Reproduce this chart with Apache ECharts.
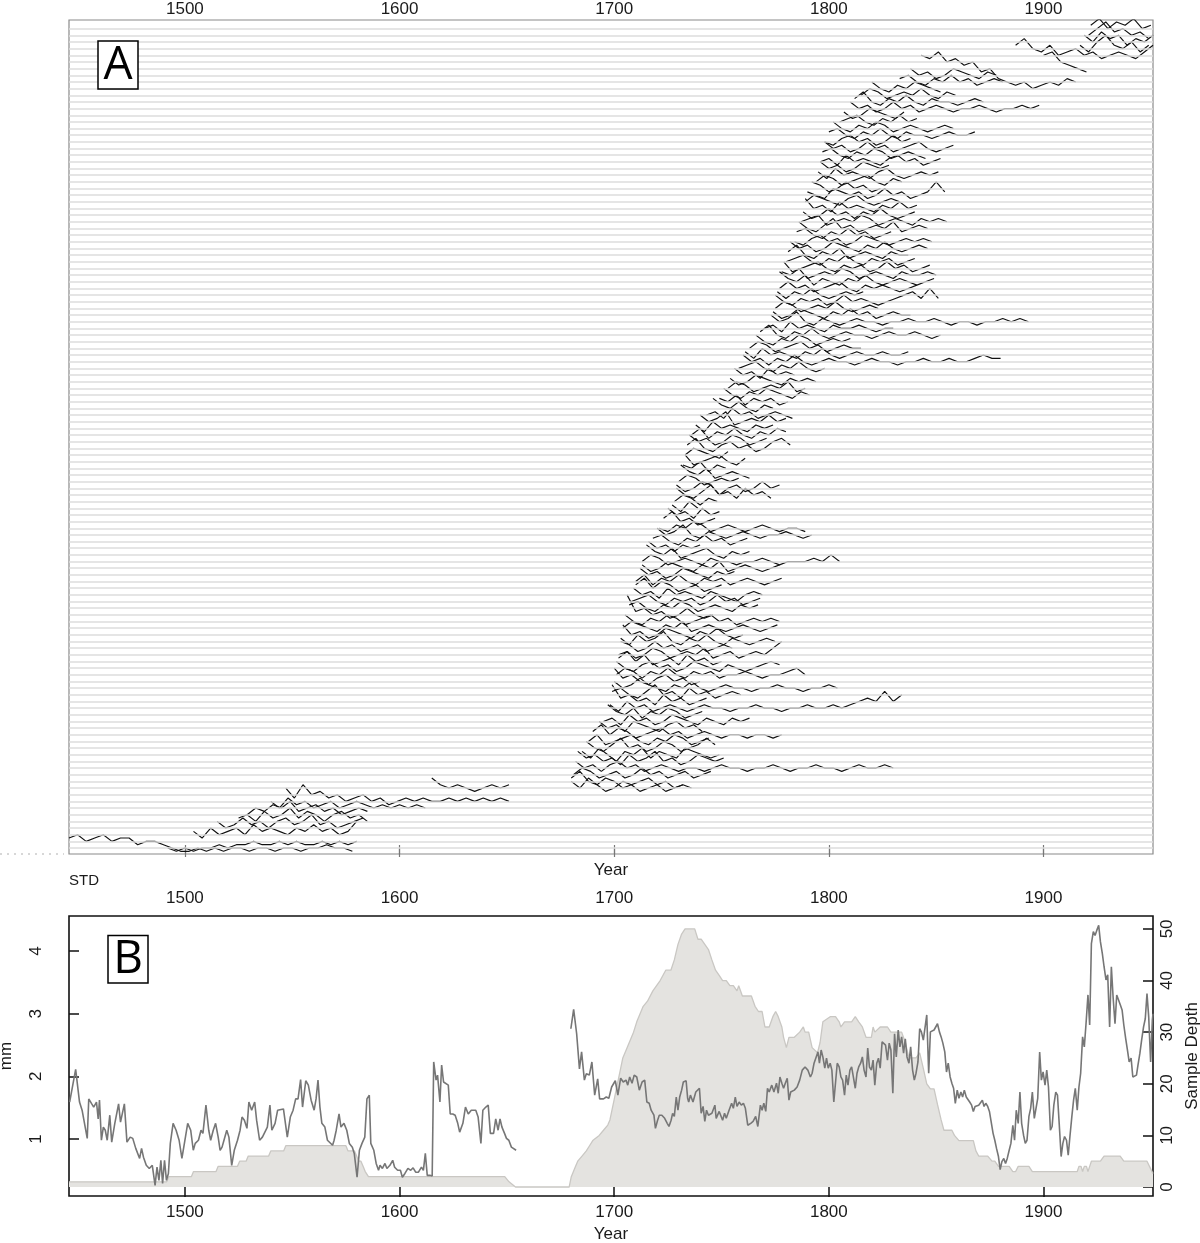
<!DOCTYPE html>
<html>
<head>
<meta charset="utf-8">
<script src="https://cdn.jsdelivr.net/npm/echarts@6/dist/echarts.min.js"></script>
<style>
html, body { margin: 0; padding: 0; background: #fff; }
#main { width: 1200px; height: 1243px; }
</style>
</head>
<body>
<div id="main"></div>
<script>
// tick labels
const yearTicks = [1500, 1600, 1700, 1800, 1900];
const mmTicks = [1, 2, 3, 4];
const depthTicks = [0, 10, 20, 30, 40, 50];

// panel A: one series per row, first year, then values read every 4 years
const spagStep = 4;
const spagStart = [1446,1492,1504,1515,1525,1529,1540,1547,1615,
  1680,1680,1681,1682,1683,1685,1687,1688,1690,1693,1695,1697,1698,1699,1699,1700,1700,1701,1701,1702,1702,
  1703,1703,1704,1704,1705,1706,1707,1708,1709,1710,1710,1712,1713,1713,1715,1716,1718,1720,1721,1723,
  1725,1727,1728,1729,1729,1730,1731,1732,1733,1733,1734,1735,1736,1738,1740,1743,1746,1749,1751,1753,
  1754,1756,1758,1760,1761,1763,1766,1768,1770,1773,1774,1775,1775,1776,1777,1777,1778,1779,1780,1781,
  1782,1784,1785,1786,1787,1788,1789,1789,1790,1792,1794,1795,1796,1796,1797,1798,1798,1800,1802,1805,
  1807,1810,1812,1815,1820,1833,1838,1843,1900,1887,1917,1919,1921,1922];
const spagVals = [
  [3,4,2,3,4,2,3,3,1,2,2,1,0,-1,-1,0,-1,0,-1,0,0,-1,0,0,-1,0,0,-1,0,0,1,0,0,-1],
  [-2,-3,-2,-3,-2,-2,-1,-2,-1,-1,0,-1,-1,0,-1,0,-1,-1,0,-1,0,-1,0],
  [1,-1,2,0,1,2,0,3,1,2,1,0,2,1,3,1,2,0,1,4],
  [2,0,1,3,1,2,0,2,3,1,2,4,1,2,0,1,2,3],
  [1,2,0,3,1,2,4,1,3,2,0,2,3,1,2,0],
  [0,2,1,3,2,4,1,2,3,1,2,0,1,2,1],
  [2,0,3,1,2,0,1,2,0,1,2,1,0,1,0,1,0,1,0],
  [4,1,5,2,3,1,2,0,1,2,0,1,-1,0,1,0,1,0,0,1,0,1,0,1,0,1,0],
  [5,3,2,3,2,1,2,3,2,3],
  [2,0,3,1,-1,0,2,1,-1,0,1,-1,0,1,0],
  [1,3,0,-1,1,0,-2,-1,0,1,-1,0,-2,-1],
  [0,2,1,-1,0,1,-1,0,2,0,1,-1,0,1,-1,0,1],
  [2,0,1,-1,1,2,0,1,-1,0,1,0,-1,0,0,-1,0,1,0,0,-1,0,0,1,0,-1,0,0,1,0,0,-1,0,1,0,0,1,0],
  [3,1,2,0,1,-1,2,0,1,3,0,1,-1,0,2,1,0,1],
  [1,-1,2,0,-2,1,0,2,-1,1,0,-1,2,1,0,-1,0],
  [2,0,-1,1,3,0,1,-1,0,2,1,-1,0,1,3,1],
  [0,2,-1,0,1,2,0,-1,1,0,2,1,-1,0,1],
  [1,3,0,2,1,-1,0,1,2,0,1,-1,0,1,0,-1,0,0,-1,0,0,-1,0],
  [2,0,1,-1,2,1,0,-1,1,2,0,1,-1],
  [0,1,-1,2,0,1,-1,0,2,1,0,-1,1,0,-1,1,0,1],
  [3,1,0,2,-1,1,0,2,1,-1,0,1],
  [1,-1,2,0,1,-1,0,1,0,-1,0,1,0,0,-1,0,0,1,0,0,-1,0,0,1,0,0,1,0,1,2,3,2,5,2,4],
  [5,1,2,0,1,-1,2,0,1,-1,0,1],
  [1,2,0,-1,1,3,0,1,-1,2,0,1,-1,0,1,0],
  [2,0,1,3,1,0,-1,1,0,2,0,-1,0,1,0,0,-1,0,0,1,0,0,-1,0,0,1,0],
  [4,1,2,0,-1,1,2,0,1,-1,0],
  [0,2,1,-1,1,0,2,0,-1,1,0,1,-1,0,0,1,0,-1,0,0,1,2,0],
  [2,0,-1,1,2,0,1,-1,0,2,1,0,-1,1,0,-1,0,1,2,1],
  [1,3,0,2,-1,0,1,-1,2,0,1,-1,0],
  [0,1,-1,0,2,1,-1,0,1,0,2,-1,0,1,-1,0,1,0,2,4],
  [2,1,-1,0,2,0,1,-1,0,1,-1,0,1,0],
  [1,-1,2,0,1,3,0,-1,1,0,2,0,-1,1,0,-1,0,1,0],
  [3,0,1,-1,0,2,1,0,-1,1,0,2,0,-1,0],
  [0,2,1,0,-1,1,0,2,-1,0,1,0,-1,0,1,0,-1,0,1],
  [2,0,-1,1,0,2,1,-1,0,1,2,0,1,-1,0,1,0,1,0],
  [6,1,2,0,1,-1,0,2,0,-1,0],
  [1,2,0,-1,1,0,2,1,-1,0,1,0,-1,1,0,1],
  [0,1,2,0,-1,1,0,1,-1,0,2,0,1,-1,0,1],
  [2,0,1,-1,2,0,1,0,-1,1,0,-1,-2,0,1,0],
  [1,3,0,2,1,-1,0,1,-1,0,1],
  [0,2,-1,1,0,2,0,-1,1,0,1,-1,0,1,0,-1,0,1],
  [2,0,1,-1,0,2,1,0,-1,1,0,1],
  [1,-1,0,2,1,0,-1,1,0,2,-1,0,1,0,-1,0,1],
  [0,2,1,-1,0,1,0,-1,1,0,0,-1,0,0,1,0,-1,0,0,0,1,0,2,0],
  [3,1,0,2,-1,0,1,2,0,-1,1,0,1],
  [2,0,1,-1,1,0,1],
  [1,2,0,-1,1,0,2,0,1,-1,0,1],
  [2,0,1,3,0,-1,1,0,-1,0,1,0,-1,0,0,1,0,-1,0],
  [0,-1,1,0,2,1,-1,0,1,0,-1,0,1,0,-1,0,0,-1],
  [1,3,0,1,-1,0,1],
  [2,0,1,-1,2,0,1],
  [1,-1,2,0],
  [0,2,1,-1,1,0],
  [2,0,-1,1,3,0,1,-1,2,0,1,-1],
  [1,-1,0,2,1,-2,0,1,-1,0,2,0,1],
  [0,2,1,-1,0,1,0,1],
  [3,1,0,2,-1,0,1,0,-1],
  [1,0,2,-1,1,0],
  [2,-1,0,1,2,0,-1,1],
  [0,2,1,0,-1,1],
  [1,3,0,-1,1,2,0,1,-1,0,2,3,1],
  [2,0,1,-1,0,2,1,-1,0,1],
  [0,2,-1,1,0,2,0,-1,1,0,2,1],
  [1,-1,2,0,1,0,-1,1,0,1],
  [2,0,1,3,-1,0,1,0,2,0,1],
  [0,1,-1,2,0,1,-1,0,1,0,-1],
  [3,1,0,2,0,-1,1,0],
  [1,0,2,-1,1,0,1,-1,0],
  [2,0,-1,1,0,2,1,0,-1,1,0],
  [0,2,1,-1,0,1,0,2,-1,0],
  [1,-1,0,2,1,0,-1,1,0,1,0],
  [2,0,1,-1,2,0,1,0],
  [0,1,2,0,-1,1,0,2,0,-1,0],
  [2,0,1,-1,1,0,2,0,-1,0,1,0,0,-1,0,1,0,0,-1,0,0,1,0,0,1,0,0,1,2,1,1],
  [1,-1,2,0,1,0,-1,1,0,2,0,-1,0,1,0,0,1,0,0,1],
  [0,2,1,-1,0,1,2,0,1,-1,0,1,0,0],
  [2,0,-1,1,0,2,1,-1,0,1,0,1],
  [1,3,0,-1,1,0,2,0,-1,0,1,0,0,-1,0,1,0,0,1,0,-1,0],
  [0,1,-1,2,0,1,0,-1,1,0,0,1,0,-1,0,0],
  [2,0,1,3,0,-1,1,0,-1,0,1,0,0,-1,0,0,1,0,0,1,0,-1,0,0,-1,0,0,1,0,1,0],
  [1,-1,0,2,1,0,-1,1,0,2,0,1,-1,0,1,0,0],
  [0,2,1,-1,0,1,0,2,0,-1,0,1,0],
  [2,0,-1,1,0,1,-1,0,2,0,1,0,-1,0,1,2,3,1,4,1],
  [1,-1,1,0,2,0,-1,0,1,0,1],
  [0,2,0,1,-1,0,1,2,0,-1,1,0,1,0,-1,0,1],
  [3,1,0,2,-1,1,0,-1,1,0,2,0,-1,0,1,0,-1,0,1],
  [1,0,2,-1,0,1,0,2,1,-1,0,1,0,-1,1,0,0,1,0],
  [2,-1,0,1,2,0,-1,1,0,1,-1,0,2,0,1,-1,0,1],
  [0,1,2,0,-1,1,0,2,0,-1,1,0,1,-1,0,1],
  [1,3,0,-1,1,0,2,-1,0,1,0,-1,1,0,0],
  [2,0,1,-1,0,2,1,0,-1,1,0,2,0,-1,0,1,0],
  [0,-1,1,2,0,1,-1,0,2,1,0,-1,0,1,0,1,0],
  [1,2,0,-1,1,0,2,0,1,-1,0,1],
  [2,0,-1,1,3,0,1,-1,0,1,0,2,-1,0,1,0],
  [0,1,2,-1,0,1,0,2,1,-1,0,1,0,-1,1,0,1,0],
  [1,-1,0,2,0,1,-1,1,0,2,0,-1,0,1],
  [3,0,1,-1,2,0,1,0,-1,1,0,2,0,1],
  [0,2,1,0,-1,1,2,0,-1,0,1,0],
  [1,0,-1,2,1,0,1,-1,0,2,0,1,-1,0,1,4,1],
  [2,1,-1,0,2,0,1,-1,0],
  [0,2,1,-1,0,1,2,0,-1,1,0],
  [1,-1,2,0,1,0,-1,1,2,0,-1,0,1,0,1],
  [2,0,1,-1,0,2,1,0,1],
  [0,1,-1,2,0,1,0,-1,1,2,0,1,-1,0,1],
  [1,2,0,-1,1,0,2,1,-1,0,1,0,-1],
  [2,0,1,-1,0,2,0,1,-1,0,1,2,0,-1,0,1],
  [0,-1,1,2,0,1,-1,0,2,0,1],
  [1,2,0,-1,1,0,2,0,-1,1,0,0,-1,0,1,0,0,1],
  [2,0,-1,1,0,2,1,-1,0,1,0,-1,0,1,0],
  [0,1,2,0,-1,1,0,2,0,1],
  [1,-1,0,2,1,0,-1,1],
  [2,0,1,-1,0,2,0,1,-1,0,1,0,-1,0,0,1,0,-1,0,0,1,0,1],
  [1,3,0,-1,1,0,2,0,-1,1,0,0,-1,0,1,0],
  [0,2,1,-1,0,1,0,2,0,-1,1,0],
  [2,0,-1,1,0,2,1,0,-1],
  [1,2,0,-1,1,0,2,0,1,-1,0,1,0],
  [2,0,1,-1,0,2,1,0,-1,1,0],
  [4,3,5,2,3,1,2,-1,0,-3,-4,-5,-4,-6,-5,-4,-5,-3,-4],
  [2,3,0,-1,-2,-3],
  [3,5,2,1,3,0,1,2,0,1,-1,0,1,0,-1,1,3],
  [1,-1,2,4,1,0,2,-1,1],
  [2,0,3,1,2,-1,1,0,2],
  [0,2,4,1,2,0,1,-1],
  [1,3,0,2,1,3,0,1]
];

// panel B: STD chronology (mm), null marks the gap
const stdYears = [1446.3,1449.1,1450.9,1452.1,1454.5,1455.2,1456.6,1457.5,1458.8,1459.6,1460.2,1461.1,1462.0,1462.9,1463.8,1465.0,1465.9,1467.3,1469.1,1470.0,
  1470.9,1471.8,1473.0,1474.5,1475.7,1477.1,1478.0,1478.9,1479.8,1480.7,1482.0,1483.4,1484.8,1486.1,1487.0,1487.9,1488.8,1489.6,1490.5,1491.4,
  1492.3,1493.2,1494.5,1495.9,1497.3,1498.6,1499.5,1501.3,1502.7,1503.9,1504.8,1506.3,1507.5,1508.4,1509.8,1511.1,1512.0,1513.2,1514.3,1515.5,
  1516.4,1517.3,1518.2,1519.5,1520.5,1521.8,1523.0,1524.5,1525.7,1526.6,1527.7,1528.9,1529.8,1531.1,1532.5,1533.4,1534.8,1536.1,1537.0,1538.4,
  1539.6,1540.5,1542.0,1543.2,1544.1,1545.9,1546.8,1547.7,1549.1,1550.4,1551.6,1552.7,1553.9,1554.8,1556.3,1557.5,1558.8,1560.2,1561.1,1562.0,
  1562.9,1563.8,1565.2,1566.4,1567.3,1568.8,1569.5,1570.5,1571.8,1572.7,1574.1,1575.4,1576.6,1578.0,1578.9,1580.2,1581.3,1582.5,1583.8,1584.8,
  1585.9,1586.6,1587.3,1588.0,1589.1,1590.2,1590.9,1592.0,1593.2,1594.1,1595.5,1596.8,1597.7,1599.1,1600.4,1601.3,1602.5,1603.9,1605.2,1606.3,
  1607.5,1608.8,1610.2,1611.1,1612.0,1612.9,1614.1,1615.2,1615.9,1617.0,1617.7,1618.8,1619.6,1620.5,1621.4,1622.7,1623.6,1624.8,1625.9,1627.1,
  1628.0,1629.5,1630.7,1632.0,1633.4,1634.3,1635.5,1636.6,1637.9,1638.8,1640.2,1641.3,1642.3,1643.8,1644.8,1645.9,1646.8,1647.7,1648.9,1649.8,
  1650.9,1652.1,1653.0,1654.3,1667,
  1679.8,1681.1,1682.5,1683.8,1684.8,1686.1,1687.0,1688.4,1689.6,1690.9,1692.3,1693.2,1695.0,1696.3,1697.5,1698.8,1700.5,1701.7,1703.0,1704.2,
  1705.5,1706.3,1707.2,1708.3,1709.3,1710.5,1711.7,1713.0,1714.2,1715.2,1716.3,1717.2,1718.5,1719.2,1720.2,1721.0,1722.2,1723.5,1724.7,1725.5,
  1726.5,1727.2,1728.0,1728.9,1729.7,1730.5,1731.4,1732.2,1733.5,1734.2,1734.7,1735.5,1736.7,1738.0,1738.9,1739.7,1740.5,1741.4,1742.2,1743.0,
  1743.9,1744.7,1745.5,1746.9,1747.5,1748.9,1749.7,1750.5,1751.4,1752.2,1753.5,1754.7,1755.5,1756.4,1757.2,1758.2,1759.2,1760.2,1761.1,1762.2,
  1763.6,1764.7,1765.9,1766.9,1768.1,1768.9,1769.7,1770.6,1771.4,1772.2,1773.4,1774.4,1775.6,1776.4,1777.2,1778.1,1778.9,1779.7,1780.6,1781.4,
  1782.2,1783.9,1785.2,1786.4,1787.6,1788.9,1790.2,1791.4,1792.2,1793.1,1793.9,1794.9,1795.6,1796.4,1797.2,1798.1,1798.9,1799.7,1800.6,1801.4,
  1802.3,1803.1,1803.9,1804.8,1805.6,1806.4,1807.3,1808.1,1808.9,1809.8,1810.6,1811.4,1812.3,1813.1,1813.9,1814.8,1815.6,1816.4,1817.3,1818.1,
  1818.9,1819.8,1820.6,1821.4,1822.3,1823.1,1823.9,1824.8,1825.6,1826.4,1827.3,1828.1,1828.9,1829.8,1830.6,1831.4,1832.3,1833.1,1833.9,1834.8,
  1835.6,1836.4,1837.3,1838.1,1839.0,1839.8,1840.6,1841.5,1842.3,1843.1,1844.0,1844.8,1845.6,1846.5,1847.3,1848.1,1849.0,1849.8,1850.6,1851.5,
  1852.3,1853.1,1854.0,1854.8,1855.6,1856.5,1857.3,1858.1,1858.9,1859.8,1860.6,1861.5,1862.3,1863.1,1864.0,1864.8,1865.6,1866.5,1867.3,1868.1,
  1869.0,1869.8,1870.6,1871.5,1872.3,1873.1,1874.0,1874.8,1875.6,1876.5,1877.3,1878.1,1879.0,1879.8,1880.6,1881.5,1882.3,1883.1,1884.0,1884.8,
  1885.7,1886.5,1887.3,1888.2,1889.0,1889.8,1890.7,1891.5,1892.3,1893.2,1894.0,1894.8,1895.7,1896.5,1897.3,1898.2,1899.0,1899.8,1900.7,1901.5,
  1902.3,1903.2,1904.0,1904.8,1905.7,1906.5,1907.3,1908.2,1909.0,1909.8,1910.7,1911.5,1912.3,1913.2,1914.0,1914.8,1915.7,1916.5,1917.3,1918.2,
  1919.0,1919.8,1920.7,1921.5,1922.3,1923.2,1924.0,1924.8,1925.7,1926.5,1927.4,1928.2,1929.1,1929.9,1930.8,1931.6,1932.4,1933.3,1934.1,1934.9,
  1935.8,1936.6,1937.4,1938.3,1939.1,1939.9,1940.8,1941.6,1942.4,1943.3,1944.0,1944.9,1945.7,1946.6,1947.4,1948.2,1949.0,1949.9,1950.7,1951.0];
const stdValues = [1.59,2.11,1.59,1.46,1.01,1.64,1.56,1.51,1.59,1.32,1.62,0.98,1.19,1.14,0.98,1.38,0.95,1.24,1.56,1.27,
  1.30,1.56,0.95,1.03,1.01,0.85,0.82,0.69,0.85,0.71,0.58,0.53,0.58,0.26,0.55,0.34,0.66,0.29,0.66,0.34,
  0.45,0.93,1.25,1.14,0.98,0.69,0.71,1.25,1.14,0.82,0.93,0.98,1.14,1.09,1.54,1.14,0.98,1.14,1.25,1.03,
  0.82,0.87,0.98,1.14,1.03,0.58,0.82,0.98,1.14,1.35,1.30,1.17,1.59,1.46,1.59,1.30,0.98,1.03,1.01,1.19,
  1.54,1.14,1.25,1.46,1.48,1.48,1.46,1.03,1.35,1.46,1.64,1.64,1.95,1.51,1.93,1.86,1.62,1.46,1.64,1.94,
  1.51,1.25,1.19,0.98,0.98,0.90,0.98,1.14,1.40,1.19,1.25,1.14,0.93,0.87,0.77,0.39,0.82,0.93,1.03,1.64,
  1.70,0.93,0.95,0.82,0.61,0.50,0.58,0.53,0.61,0.53,0.58,0.66,0.55,0.50,0.50,0.39,0.45,0.53,0.50,0.54,
  0.47,0.47,0.55,0.50,0.77,0.42,0.42,0.41,2.23,1.94,2.02,1.59,2.18,1.91,1.88,1.86,1.40,1.40,1.38,1.25,
  1.11,1.25,1.51,1.40,1.46,1.48,1.46,1.35,0.93,1.46,1.51,1.54,1.09,1.09,1.32,1.14,1.32,1.19,1.09,1.01,
  0.98,0.87,0.90,0.82,null,
  2.76,3.07,2.68,2.12,2.39,1.94,2.04,2.02,2.23,1.70,1.96,1.64,1.64,1.67,1.65,1.83,1.93,1.70,1.97,1.91,
  1.94,1.86,1.99,1.89,2.02,1.99,1.78,1.91,1.94,1.59,1.57,1.46,1.38,1.17,1.30,1.38,1.38,1.33,1.25,1.20,
  1.30,1.41,1.36,1.67,1.46,1.67,1.78,1.91,1.93,1.65,1.59,1.70,1.59,1.75,1.75,1.81,1.41,1.52,1.28,1.46,
  1.38,1.41,1.41,1.54,1.33,1.44,1.41,1.30,1.41,1.33,1.46,1.57,1.49,1.67,1.52,1.59,1.54,1.57,1.49,1.22,
  1.25,1.28,1.36,1.20,1.54,1.46,1.57,1.44,1.81,1.75,1.86,1.75,1.89,1.73,1.99,1.89,1.81,1.89,1.97,1.62,
  1.75,1.78,1.83,1.94,2.10,2.15,2.10,1.99,2.05,2.21,2.18,2.39,2.21,2.42,2.31,2.13,2.29,2.13,2.21,2.10,
  1.59,1.62,2.21,2.15,1.99,1.94,1.70,2.02,1.86,2.10,2.15,1.99,1.81,2.05,2.15,2.21,2.31,2.10,1.99,2.45,
  2.15,2.10,2.26,1.86,2.21,2.29,2.13,2.55,2.53,2.50,2.26,2.53,2.42,1.73,2.68,2.31,2.74,2.47,2.63,2.37,
  2.60,2.31,2.21,2.47,2.10,1.94,2.05,2.23,2.76,2.71,2.58,2.60,2.98,2.05,2.71,2.68,2.74,2.71,2.84,2.71,
  2.63,2.53,2.39,2.07,2.21,1.99,1.89,1.81,1.57,1.78,1.65,1.75,1.67,1.78,1.67,1.67,1.59,1.54,1.44,1.52,
  1.49,1.54,1.52,1.62,1.52,1.57,1.52,1.44,1.44,1.09,0.98,0.85,0.72,0.51,0.64,0.69,0.61,0.69,0.82,0.93,
  1.22,0.98,1.46,1.25,1.75,1.25,1.06,0.93,0.98,1.36,1.49,1.75,1.33,1.33,1.65,2.39,1.94,2.07,1.86,2.10,
  1.83,1.14,1.20,1.54,1.75,1.70,1.25,0.72,0.93,1.04,0.98,0.74,1.04,1.36,1.62,1.81,1.46,1.83,2.05,2.63,
  2.47,2.84,3.30,2.82,4.12,4.31,4.25,4.33,4.41,4.15,3.96,3.75,3.54,3.62,2.79,3.75,3.27,2.84,3.30,3.27,
  3.14,3.06,2.82,2.60,2.42,2.23,2.29,1.99,2.02,2.02,2.18,2.37,2.58,2.79,2.92,3.32,2.95,2.23,2.90,3.00];

// panel B: sample depth outline
const depthYears = [1446,1491.5,1492.5,1503,1504,1514.5,1515.5,1524.5,1525.5,1528.5,1529.5,1539,1540,1546,1547,1575,1576,1579,1580,1581,
  1582,1583,1584,1585.5,1649,1651,1654,1679,1680,1681,1682,1683,1685,1687,1688.5,1690,1693,1695,1697,1698,
  1699,1700,1701,1702,1703,1704,1706,1709,1710.5,1713.5,1715.5,1718,1721.4,1724,1726.4,1728,1729.7,1731.4,1733,1737.5,
  1739,1740.5,1742.2,1743.9,1745.5,1747.2,1748.9,1750.5,1752.2,1753.9,1755.5,1757.2,1758,1759.7,1763.9,1765.6,1767.2,1768.9,1770.2,1772.2,
  1773.9,1775.2,1776.4,1778.1,1778.9,1780.2,1781.4,1783.9,1786.4,1788.1,1788.9,1790.6,1792.2,1794.7,1795.9,1797.2,1800.6,1803.1,1804.8,1805.6,
  1807.3,1810.6,1812.3,1813.9,1815.6,1817.3,1819.8,1820.6,1821.4,1823.9,1827.3,1828.9,1833.9,1835.6,1837.3,1840.6,1842.3,1844,1845.6,1847.3,
  1849,1850.6,1852.3,1853.6,1857.3,1858.5,1860.6,1867.3,1868.5,1869.8,1874,1876,1877.3,1879,1884,1885.7,1887,1888.2,1893.2,1894.8,
  1915.7,1916.5,1917.5,1918.2,1919,1920,1920.7,1921.5,1922.3,1926.5,1928.2,1935.7,1937.4,1948.2,1951];
const depthValues = [1,1,2,2,3,3,4,4,5,5,6,6,7,7,8,8,7,7,6,5,
  5,4,3,2,2,1,0,0,2,3,4,5,6,7,8,9,10,11,12,13,
  15,17,19,21,23,25,27,30,32,35,36,38,40,42,42,44,47,49,50,50,
  48,48,47,46,44,42,41,40,40,39,39,38,39,37,37,35,34,34,31,31,
  33,34,33,31,29,27,29,29,30,31,30,30,27,26,28,32,33,33,32,31,
  32,32,33,32,31,29,29,31,30,31,31,30,30,28,25,25,26,23,20,19,
  19,16,13,11,11,10,9,9,7,6,6,5,5,4,4,3,3,4,4,3,
  3,4,4,3,4,4,3,4,5,5,6,6,5,5,2.6];

const FONT = '"Liberation Sans", Arial, sans-serif';
const rowScale = 0.5;
const plain = v => String(v);

const chart = echarts.init(document.getElementById('main'), null, { renderer: 'canvas' });

const series = [];
// grey baseline for every row
series.push({
  type: 'line', xAxisIndex: 0, yAxisIndex: 0, z: 1, silent: true,
  data: [[1300, -10]], showSymbol: false, lineStyle: { width: 0 },
  markLine: {
    silent: true, symbol: ['none', 'none'], label: { show: false }, animation: false,
    lineStyle: { color: '#dcdcdc', width: 1.6, type: 'solid' },
    data: spagStart.map((s, i) => ({ yAxis: i }))
  }
});
spagVals.forEach((vals, i) => {
  series.push({
    type: 'line', xAxisIndex: 0, yAxisIndex: 0, z: 3, silent: true,
    showSymbol: false,
    lineStyle: { color: '#111', width: 1.15 },
    data: vals.map((v, k) => [spagStart[i] + k * spagStep, i + v * rowScale])
  });
});
series.push({
  type: 'line', xAxisIndex: 2, yAxisIndex: 2, z: 2, silent: true,
  showSymbol: false,
  lineStyle: { color: '#c9c7c3', width: 1.3 },
  areaStyle: { color: '#e4e3e0', opacity: 1 },
  data: depthYears.map((y, i) => [y, depthValues[i]])
});
series.push({
  type: 'line', xAxisIndex: 2, yAxisIndex: 1, z: 4, silent: true,
  showSymbol: false,
  lineStyle: { color: '#767676', width: 1.6 },
  data: stdYears.map((y, i) => [y, stdValues[i] === null ? '-' : stdValues[i]])
});

const baseX = {
  type: 'value', min: 1446, max: 1951,
  axisLine: { show: false }, splitLine: { show: false }
};
const labelStyle = { fontSize: 17, color: '#1a1a1a', fontFamily: FONT, formatter: plain };

const option = {
  animation: false,
  backgroundColor: '#fff',
  textStyle: { fontFamily: FONT },
  grid: [
    { left: 69, right: 47, top: 20, height: 834, outerBoundsMode: 'none', containLabel: false, show: true, borderColor: '#8a8a8a', borderWidth: 1.2, backgroundColor: 'transparent' },
    { left: 69, right: 47, top: 916, height: 280, outerBoundsMode: 'none', containLabel: false, show: true, borderColor: '#111', borderWidth: 1.6, backgroundColor: 'transparent' }
  ],
  xAxis: [
    Object.assign({}, baseX, {
      gridIndex: 0, position: 'top',
      axisTick: { inside: true, length: 9, customValues: yearTicks, lineStyle: { color: '#777', width: 1.2 } },
      axisLabel: Object.assign({ customValues: yearTicks, margin: 2 }, labelStyle)
    }),
    Object.assign({}, baseX, {
      gridIndex: 0, position: 'bottom',
      axisTick: { inside: true, length: 9, customValues: yearTicks, lineStyle: { color: '#777', width: 1.2 } },
      axisLabel: { show: false },
      name: 'Year', nameLocation: 'middle', nameGap: 8,
      nameTextStyle: { fontSize: 17, color: '#1a1a1a', fontFamily: FONT }
    }),
    Object.assign({}, baseX, {
      gridIndex: 1, position: 'top',
      axisTick: { inside: true, length: 10, customValues: yearTicks, lineStyle: { color: '#111', width: 1.5 } },
      axisLabel: Object.assign({ customValues: yearTicks, margin: 9 }, labelStyle)
    }),
    Object.assign({}, baseX, {
      gridIndex: 1, position: 'bottom',
      axisTick: { inside: true, length: 10, customValues: yearTicks, lineStyle: { color: '#111', width: 1.5 } },
      axisLabel: Object.assign({ customValues: yearTicks, margin: 8 }, labelStyle),
      name: 'Year', nameLocation: 'middle', nameGap: 30,
      nameTextStyle: { fontSize: 17, color: '#1a1a1a', fontFamily: FONT }
    })
  ],
  yAxis: [
    { type: 'value', gridIndex: 0, min: -0.9, max: 124.3, show: false },
    {
      type: 'value', gridIndex: 1, position: 'left', min: 0.09, max: 4.56,
      axisLine: { show: false }, splitLine: { show: false },
      axisTick: { inside: true, length: 10, customValues: mmTicks, lineStyle: { color: '#111', width: 1.5 } },
      axisLabel: Object.assign({ customValues: mmTicks, rotate: 90, margin: 24 }, labelStyle),
      name: 'mm', nameLocation: 'middle', nameGap: 54, nameRotate: 90,
      nameTextStyle: { fontSize: 17, color: '#1a1a1a', fontFamily: FONT }
    },
    {
      type: 'value', gridIndex: 1, position: 'right', min: -1.74, max: 52.5,
      axisLine: { show: false }, splitLine: { show: false },
      axisTick: { inside: true, length: 10, customValues: depthTicks, lineStyle: { color: '#111', width: 1.5 } },
      axisLabel: Object.assign({ customValues: depthTicks, rotate: 90, margin: 6 }, labelStyle),
      name: 'Sample Depth', nameLocation: 'middle', nameGap: 30, nameRotate: 90,
      nameTextStyle: { fontSize: 17, color: '#1a1a1a', fontFamily: FONT }
    }
  ],
  graphic: [
    { type: 'rect', shape: { x: 98, y: 41, width: 40, height: 48 }, style: { fill: '#fff', stroke: '#000', lineWidth: 1.5 }, z: 10 },
    { type: 'text', x: 118, y: 66, style: { text: 'A', fontSize: 46, fontFamily: '"Open Sans", sans-serif', fill: '#000', align: 'center', verticalAlign: 'middle' }, z: 11 },
    { type: 'rect', shape: { x: 108, y: 935.5, width: 40, height: 47.5 }, style: { fill: '#fff', stroke: '#000', lineWidth: 1.5 }, z: 10 },
    { type: 'text', x: 128, y: 960, style: { text: 'B', fontSize: 46, fontFamily: '"Open Sans", sans-serif', fill: '#000', align: 'center', verticalAlign: 'middle' }, z: 11 },
    { type: 'text', x: 69, y: 881, style: { text: 'STD', fontSize: 15, fontFamily: FONT, fill: '#1a1a1a', align: 'left', verticalAlign: 'middle' } },
    { type: 'line', shape: { x1: 0, y1: 854, x2: 64, y2: 854 }, style: { stroke: '#b0b0b0', lineWidth: 1.2, lineDash: [2, 5] } }
  ],
  series: series
};

chart.setOption(option);
</script>
</body>
</html>
